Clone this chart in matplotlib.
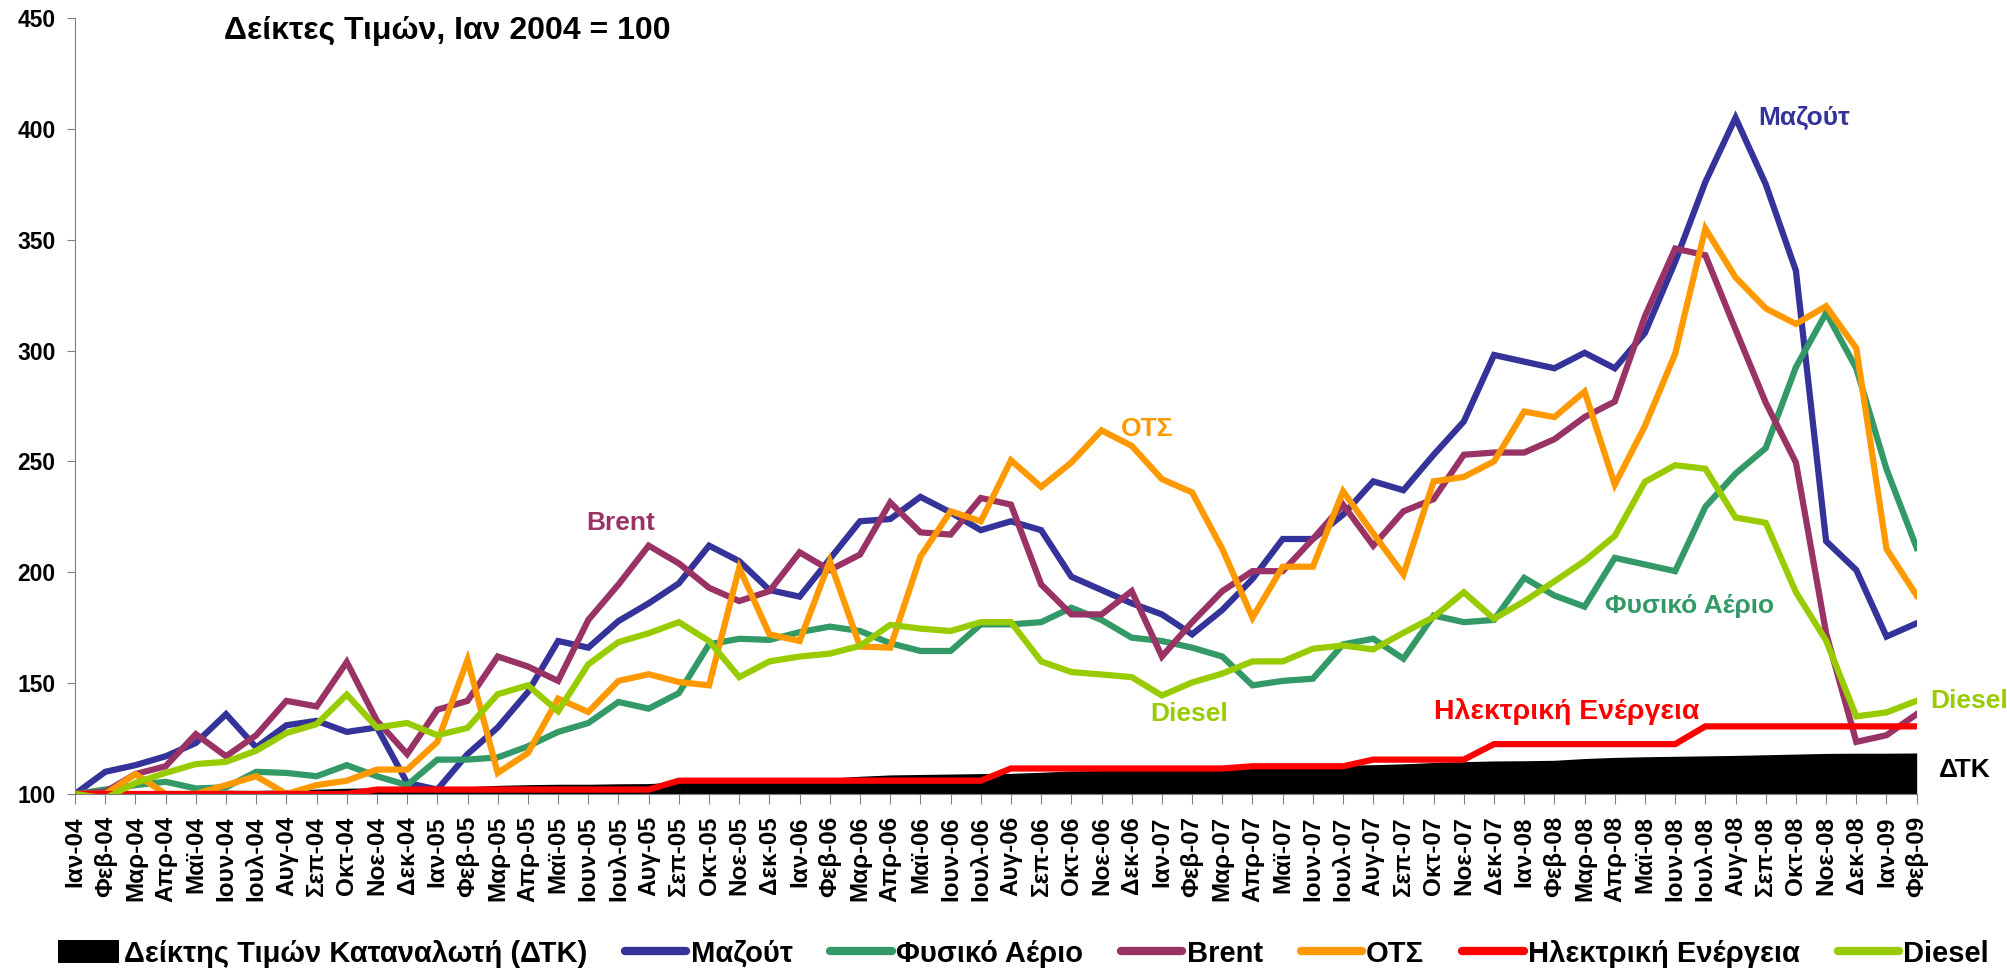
import matplotlib
matplotlib.use("Agg")
import matplotlib.pyplot as plt
from matplotlib.lines import Line2D
from matplotlib.patches import Patch

plt.rcParams['font.family'] = ['Liberation Sans', 'DejaVu Sans']
plt.rcParams['font.weight'] = 'bold'

months = ['Ιαν', 'Φεβ', 'Μαρ', 'Απρ', 'Μαϊ', 'Ιουν', 'Ιουλ', 'Αυγ', 'Σεπ', 'Οκτ', 'Νοε', 'Δεκ']
years = ['04', '05', '06', '07', '08', '09']
labels = [m + '-' + y for y in years for m in months][:62]

dtk = [100.0, 100.3, 101.0, 101.4, 101.6, 101.7, 101.6, 101.9, 102.2, 102.6, 102.8, 103.0,
       102.9, 103.3, 103.9, 104.2, 104.4, 104.4, 104.6, 104.7, 105.4, 106.2, 106.5, 106.9,
       107.0, 107.2, 108.0, 108.6, 108.8, 109.0, 109.2, 109.3, 109.8, 110.4, 110.6, 110.9,
       111.0, 111.1, 111.8, 112.3, 112.6, 112.8, 113.0, 113.2, 113.6, 114.2, 114.6, 114.9,
       115.0, 115.2, 116.0, 116.5, 116.8, 117.0, 117.2, 117.4, 117.7, 118.0, 118.3, 118.4,
       118.4, 118.5]
mazout = [100, 110, 113, 117, 123, 136, 121, 131, 133, 128, 130, 105,
          102, 118, 130, 146, 169, 166, 178, 186, 195, 212, 205, 192,
          189, 206, 223, 224, 234, 227, 219, 223, 219, 198, 192, 186,
          181, 172, 183, 197, 215, 215, 226, 241, 237, 253, 268, 298,
          295, 292, 299, 292, 308, 340, 376, 405, 375, 336, 214, 201,
          171, 177]
gas = [100, 102, 104, 105.5, 102.5, 103, 110, 109.5, 108, 113, 108, 104,
       115.5, 115.5, 116.5, 121.5, 128, 132, 141.5, 138.5, 145.5, 167.5, 170, 169.5,
       173, 175.5, 173.5, 168, 164.5, 164.5, 176.5, 176.5, 177.5, 184, 178.5, 170.5,
       169, 166, 162, 149, 151, 152, 167.5, 170, 161, 180.5, 177.5, 178.5,
       197.5, 189.5, 184.5, 206.5, 203.5, 200.5, 229.5, 244.5, 256, 292.5, 317, 292,
       246.5, 211]
brent = [100, 101, 109, 112.5, 127, 117, 126.5, 142, 139.5, 159.5, 133, 118,
         138, 142, 162, 157.5, 151, 178.5, 194.5, 212, 204, 193, 187, 191.5,
         209, 201, 208, 231.5, 218, 217, 233.5, 230.5, 194.5, 181, 181, 191.5,
         162, 177.5, 191.5, 200.5, 200.5, 215, 230.5, 212, 227.5, 233, 253, 254,
         254, 260, 270, 277, 315.5, 346, 343, 309.5, 276.5, 249.5, 172.5, 123.5,
         126.5, 136]
ots = [100, 100, 109, 100, 100, 104, 108, 100, 104, 106, 111, 111,
       123.5, 160.5, 109.5, 118.5, 143, 137, 151, 154, 150.5, 149, 202, 172,
       169, 205, 166.5, 166, 207, 227.5, 223, 250.5, 238.5, 249.5, 264, 257,
       242, 236, 210.5, 179.5, 202.5, 202.5, 236.5, 217.5, 199, 241, 243, 250,
       272.5, 270, 281.5, 239.5, 266, 298.5, 355, 333, 319, 312, 320, 301,
       210.5, 189.5]
electricity = [100, 100, 100, 100, 100, 100, 100, 100, 100, 100, 102, 102,
               102, 102, 102, 102, 102, 102, 102, 102, 106, 106, 106, 106,
               106, 106, 106, 106, 106, 106, 106, 111.5, 111.5, 111.5, 111.5, 111.5,
               111.5, 111.5, 111.5, 112.5, 112.5, 112.5, 112.5, 115.5, 115.5, 115.5, 115.5, 122.5,
               122.5, 122.5, 122.5, 122.5, 122.5, 122.5, 130.5, 130.5, 130.5, 130.5, 130.5, 130.5,
               130.5, 130.5]
diesel = [100, 98, 105, 109.5, 113.5, 114.5, 119.5, 127.5, 131.5, 144.8, 130, 132,
          126.5, 129.8, 145, 149, 137.3, 158.5, 168.5, 172.5, 177.5, 169, 152.7, 159.8,
          162, 163.3, 166.8, 176.3, 174.6, 173.5, 177.5, 177.5, 159.8, 155, 153.9, 152.7,
          144.4, 150.3, 154.3, 159.8, 159.8, 165.5, 167, 165.2, 172.7, 179.8, 191, 179,
          186.9, 195.9, 205.1, 216.4, 240.8, 248.3, 246.7, 224.7, 222.3, 191, 169.2, 135,
          136.8, 142]

series = [
    ('Μαζούτ', mazout, '#333399'),
    ('Φυσικό Αέριο', gas, '#339966'),
    ('Brent', brent, '#993366'),
    ('ΟΤΣ', ots, '#FF9900'),
    ('Ηλεκτρική Ενέργεια', electricity, '#FF0000'),
    ('Diesel', diesel, '#99CC00'),
]

x = list(range(len(labels)))

fig = plt.figure(figsize=(20.07, 9.71), dpi=100)
ax = fig.add_axes([0.0374, 0.1823, 0.9176, 0.7992])

ax.fill_between(x, 100, dtk, color='black', lw=0, zorder=1)
for name, vals, col in series:
    ax.plot(x, vals, color=col, lw=4.5, solid_joinstyle='miter', zorder=2)

ax.set_xlim(0, len(x) - 1)
ax.set_ylim(100, 450)
ax.set_yticks(range(100, 451, 50))
ax.set_xticks(x)
ax.set_xticklabels(labels, rotation=90, fontsize=17.5, fontweight='bold')
ax.tick_params(axis='y', labelsize=16.5, length=6, color='#808080', pad=8)
ax.tick_params(axis='x', length=7, color='#808080', pad=9)
for s in ['top', 'right']:
    ax.spines[s].set_visible(False)
ax.spines['left'].set_color('#808080')
ax.spines['bottom'].set_color('#808080')

# series labels inside the plot
lab = dict(fontsize=19, fontweight='bold', va='center')
ax.text(4.93, 444, 'Δείκτες Τιμών, Ιαν 2004 = 100', fontsize=23, fontweight='bold',
        ha='left', va='center')
ax.text(55.76, 405, 'Μαζούτ', color='#333399', **lab)
ax.text(34.64, 264.4, 'ΟΤΣ', color='#FF9900', **lab)
ax.text(16.92, 222.4, 'Brent', color='#993366', **lab)
ax.text(35.6, 136.1, 'Diesel', color='#99CC00', **lab)
ax.text(50.66, 184.9, 'Φυσικό Αέριο', color='#339966', **lab)
ax.text(45.0, 137.0, 'Ηλεκτρική Ενέργεια', color='#FF0000', fontsize=20.5,
        fontweight='bold', va='center')
ax.text(61.46, 142.0, 'Diesel', color='#99CC00', clip_on=False, **lab)
ax.text(61.72, 110.8, 'ΔΤΚ', color='black', clip_on=False, **lab)

handles = [Patch(facecolor='black', label='Δείκτης Τιμών Καταναλωτή (ΔΤΚ)')]
for name, vals, col in series:
    handles.append(Line2D([], [], color=col, lw=6, solid_capstyle='round', label=name))
fig.legend(handles=handles, loc='center', bbox_to_anchor=(0.51, 0.018), ncol=7,
           frameon=False, prop={'size': 21, 'weight': 'bold'}, handlelength=2.1,
           handleheight=0.8, handletextpad=0.15, columnspacing=1.3, borderaxespad=0)

fig.savefig('out.png', dpi=100)
